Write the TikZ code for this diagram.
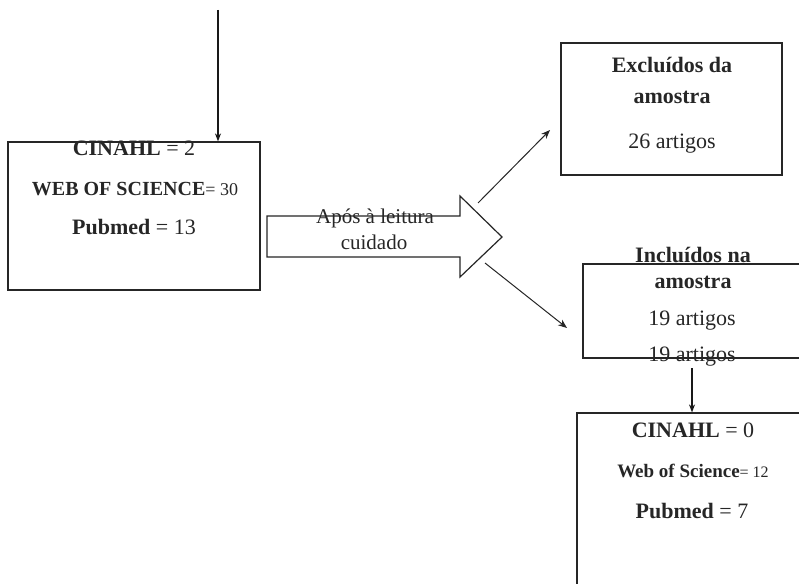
\documentclass[tikz,border=0pt]{standalone}
\usepackage{fontspec}
\setmainfont{Liberation Serif}
\usetikzlibrary{arrows.meta}
\newcommand{\fsA}{\fontsize{22}{26}\selectfont}
\newcommand{\fsB}{\fontsize{20}{24}\selectfont}
\newcommand{\fsC}{\fontsize{18}{22}\selectfont}
\newcommand{\fsD}{\fontsize{19}{23}\selectfont}
\newcommand{\fsE}{\fontsize{16}{20}\selectfont}
\tikzset{
  box/.style={draw=black!85, line width=1.2pt, rectangle, inner sep=0pt},
  txt/.style={anchor=base, inner sep=0pt, text=black!85},
  arr/.style={draw=black!90, line width=1.6pt, -{Stealth[length=8pt,width=6pt]}},
  thinarr/.style={draw=black!85, line width=1.0pt, -{Stealth[length=9pt,width=7pt]}},
}
\begin{document}
\begin{tikzpicture}[x=1pt,y=-1pt]
\useasboundingbox (0,0) rectangle (799,583);
\fill[white] (0,0) rectangle (799,583);
\clip (0,0) rectangle (799,583);

% boxes
\node[box, minimum width=252pt, minimum height=148pt] (lbox) at (134,216) {};
\node[box, minimum width=221pt, minimum height=132pt] (ebox) at (671.5,109) {};
\node[box, minimum width=237pt, minimum height=94pt] (ibox) at (701.5,311) {};
\node[box, minimum width=253pt, minimum height=207pt] (bbox) at (703.5,516.5) {};

% block arrow
\draw[draw=black!85, line width=1.2pt, fill=white]
  (267,216) -- (460,216) -- (460,196) -- (502,237) -- (460,277) -- (460,257) -- (267,257) -- cycle;

% left box texts
\node[txt] (l1) at (134,155) {\fsA\textbf{CINAHL} = 2};
\node[txt] (l2) at (135,195) {\fsB\textbf{WEB OF SCIENCE}\fsC= 30};
\node[txt] (l3) at (134,234) {\fsA\textbf{Pubmed} = 13};

% arrow texts
\node[txt] (a1) at (375,223) {\fontsize{21}{25}\selectfont Após à leitura};
\node[txt] (a2) at (374,249) {\fontsize{21}{25}\selectfont cuidado};

% excluded texts
\node[txt] (e1) at (672,73) {\fsA\textbf{Excluídos da}};
\node[txt] (e2) at (672,103) {\fsA\textbf{amostra}};
\node[txt] (e3) at (672,148) {\fsA 26 artigos};

% included texts
\node[txt] (i1) at (693,262) {\fsA\textbf{Incluídos na}};
\node[txt] (i2) at (693,288) {\fsA\textbf{amostra}};
\node[txt] (i3) at (692,325) {\fsA 19 artigos};
\node[txt] (i4) at (692,361) {\fsA 19 artigos};

% bottom texts
\node[txt] (b1) at (693,437) {\fsA\textbf{CINAHL} = 0};
\node[txt] (b2) at (693,477) {\fsD\textbf{Web of Science}\fsE= 12};
\node[txt] (b3) at (692,518) {\fsA\textbf{Pubmed} = 7};

% connectors
\coordinate (topstart) at (218,10);
\draw[arr] (topstart) -- (topstart |- lbox.north);

\coordinate (d1s) at (478,203);
\coordinate (d1e) at (550,130);
\draw[thinarr] (d1s) -- (d1e);

\coordinate (d2s) at (485,263);
\coordinate (d2e) at (567,328);
\draw[thinarr] (d2s) -- (d2e);

\coordinate (sstart) at (692,368);
\draw[arr] (sstart) -- (sstart |- bbox.north);
\end{tikzpicture}
\end{document}
